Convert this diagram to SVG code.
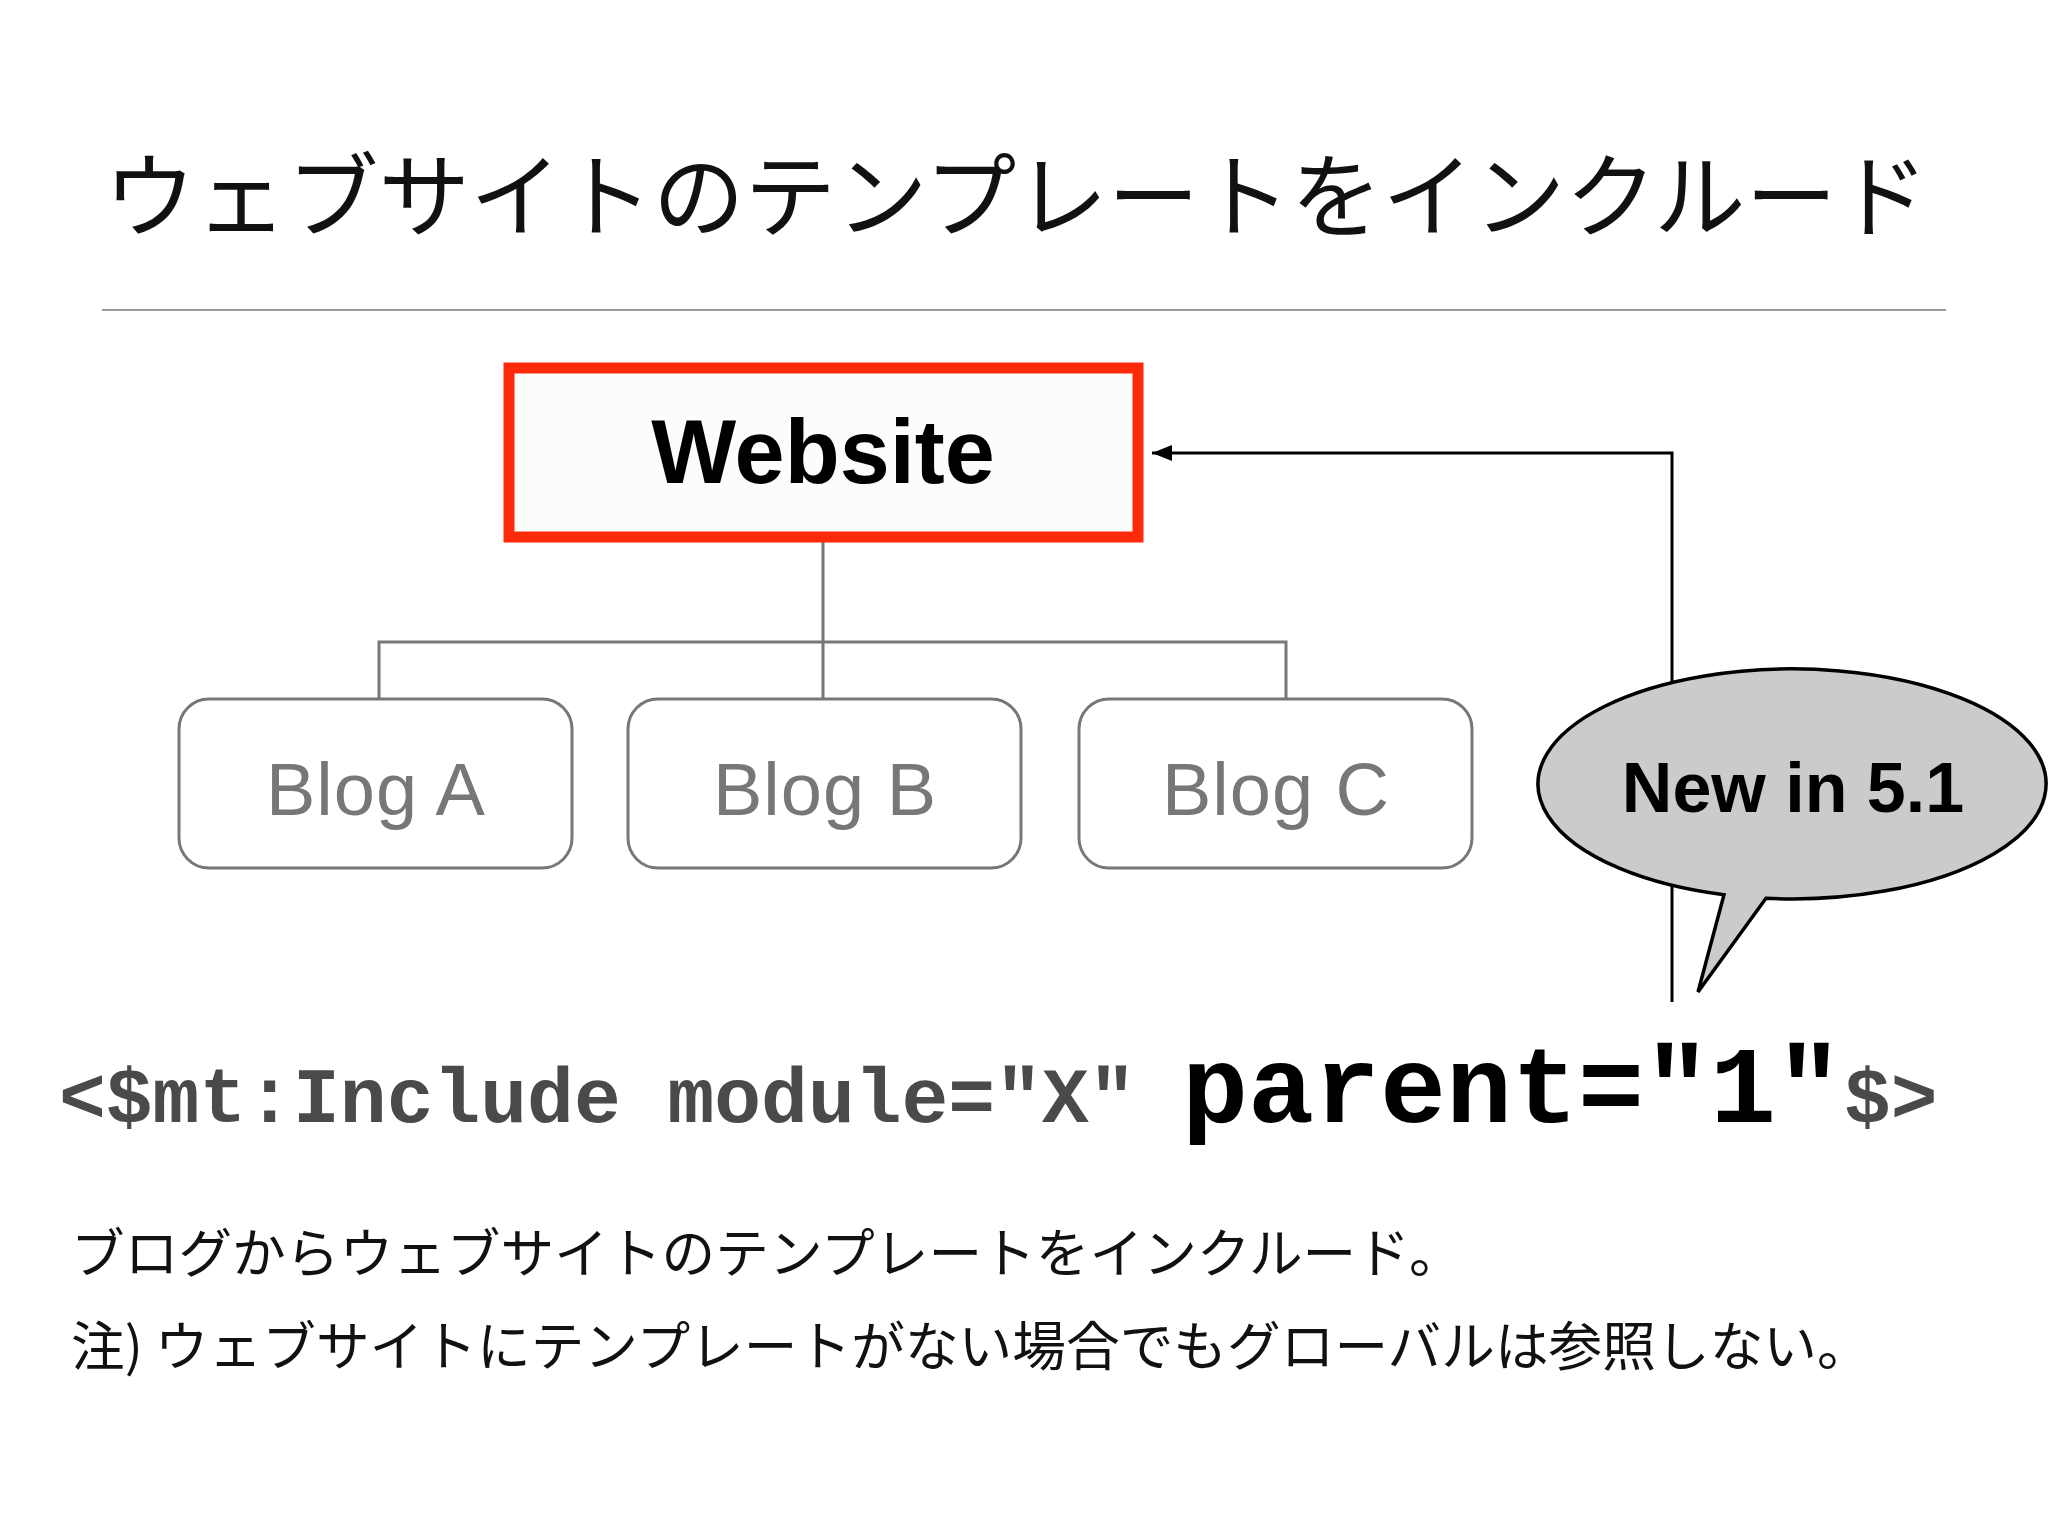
<svg xmlns="http://www.w3.org/2000/svg" width="2048" height="1536" viewBox="0 0 2048 1536">
<style>
.jp{font-family:"Noto Sans CJK JP","Noto Sans CJK SC",sans-serif;fill:#111}
.blog rect{fill:#fff;stroke:#777;stroke-width:3}
.blog text{font-family:"Liberation Sans",Arial,sans-serif;font-size:74px;letter-spacing:1px;fill:#777;text-anchor:middle}
.code{font-family:"Liberation Mono","Courier New",monospace;font-weight:bold}
.tree{fill:none;stroke:#777;stroke-width:3}
</style>
<defs>
<marker id="ah" viewBox="0 0 20 16" refX="20" refY="8" markerWidth="20" markerHeight="16" markerUnits="userSpaceOnUse" orient="auto">
<path d="M0,0 L20,8 L0,16 Z" fill="#000"/>
</marker>
</defs>
<rect width="2048" height="1536" fill="#fff"/>
<text class="jp" x="104" y="230" font-size="91.5">ウェブサイトのテンプレートをインクルード</text>
<line x1="102" y1="310" x2="1946" y2="310" stroke="#999" stroke-width="2"/>
<g id="connectors">
<path class="tree" d="M823,542 V699 M379,699 V642 H1286 V699"/>
<path d="M1672,1002 V453 H1152" fill="none" stroke="#000" stroke-width="3" marker-end="url(#ah)"/>
</g>
<g id="website">
<rect x="509" y="368" width="629" height="169" fill="#fbfdfa" stroke="#ff2a0a" stroke-width="11"/>
<text x="823" y="483" font-family="Liberation Sans,Arial,sans-serif" font-weight="bold" font-size="90" text-anchor="middle" fill="#000">Website</text>
</g>
<g id="blogA" class="blog">
<rect x="179" y="699" width="393" height="169" rx="30"/>
<text x="376" y="815">Blog A</text>
</g>
<g id="blogB" class="blog">
<rect x="628" y="699" width="393" height="169" rx="30"/>
<text x="825" y="815">Blog B</text>
</g>
<g id="blogC" class="blog">
<rect x="1079" y="699" width="393" height="169" rx="30"/>
<text x="1276" y="815">Blog C</text>
</g>
<g id="bubble">
<path d="M1724,894.7 A254,115 0 1 1 1766,898.3 L1698,992 Z" fill="#cccacc" stroke="#000" stroke-width="3.5" stroke-linejoin="miter"/>
<text x="1793" y="812" font-family="Liberation Sans,Arial,sans-serif" font-weight="bold" font-size="70" text-anchor="middle" fill="#000">New in 5.1</text>
</g>
<g id="code">
<text class="code" y="1122"><tspan x="59" font-size="78" fill="#4a4a4a">&lt;$mt:Include module="X"</tspan><tspan x="1182" font-size="110" fill="#000">parent="1"</tspan><tspan x="1844" font-size="78" fill="#4a4a4a">$&gt;</tspan></text>
</g>
<text class="jp" x="71" y="1273" font-size="53.7">ブログからウェブサイトのテンプレートをインクルード。</text>
<text class="jp" x="71" y="1366" font-size="53.7">注) ウェブサイトにテンプレートがない場合でもグローバルは参照しない。</text>
</svg>
